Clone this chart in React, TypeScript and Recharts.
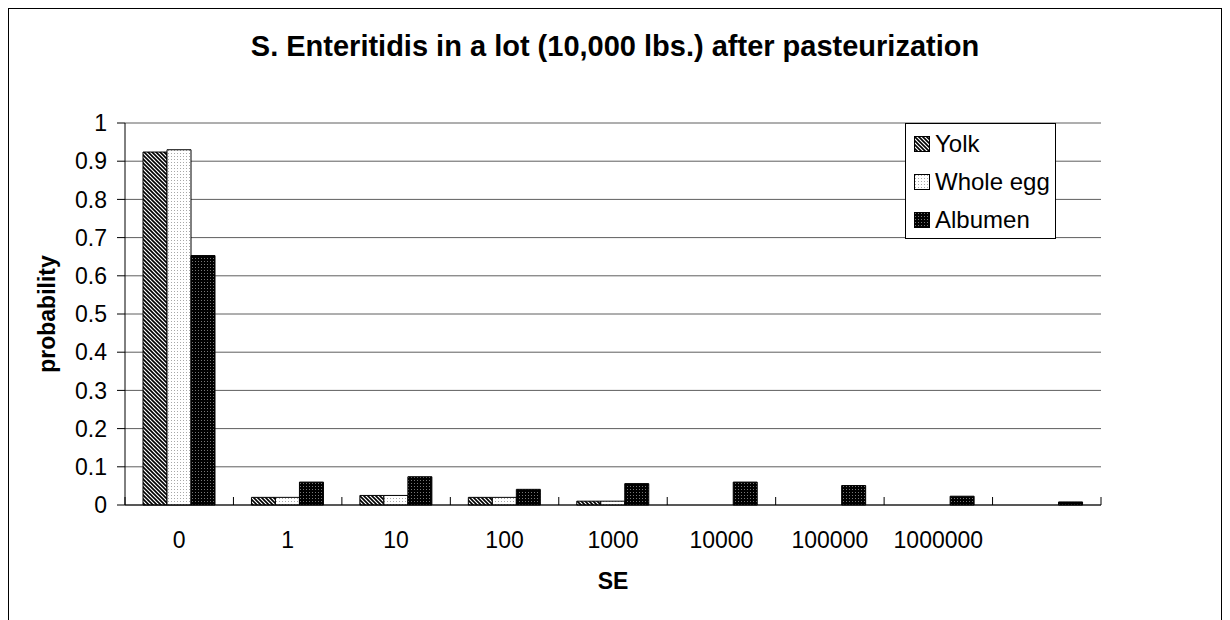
import { BarChart, Bar, XAxis, YAxis, CartesianGrid, Legend } from "recharts";

const categories = ["0", "1", "10", "100", "1000", "10000", "100000", "1000000", ""];
const yolk = [0.924, 0.02, 0.025, 0.02, 0.01, 0, 0, 0, 0];
const wholeEgg = [0.93, 0.02, 0.025, 0.02, 0.01, 0, 0, 0, 0];
const albumen = [0.653, 0.06, 0.074, 0.041, 0.056, 0.06, 0.051, 0.023, 0.008];
const yTicks = [0, 0.1, 0.2, 0.3, 0.4, 0.5, 0.6, 0.7, 0.8, 0.9, 1];
const seriesNames = ["Yolk", "Whole egg", "Albumen"];

const data = categories.map((c, i) => ({
  se: c,
  yolk: yolk[i],
  whole: wholeEgg[i],
  albumen: albumen[i],
}));

const FONT = "Arial, 'Liberation Sans', sans-serif";

// Excel-style category ticks: marks sit between categories and point up
function CategoryTick(props: any) {
  const { x, y, payload, index } = props;
  const half = payload.offset ?? 54;
  const last = index === categories.length - 1;
  return (
    <g>
      <line x1={x - half} x2={x - half} y1={y - 8} y2={y} stroke="#000" />
      {last && <line x1={x + half} x2={x + half} y1={y - 8} y2={y} stroke="#000" />}
      <text
        x={x}
        y={y + 35}
        textAnchor="middle"
        dominantBaseline="central"
        fontFamily={FONT}
        fontSize={23}
        fill="#000"
      >
        {payload.value}
      </text>
    </g>
  );
}

function LegendBox(props: any) {
  const items = [...(props.payload || [])].sort(
    (a: any, b: any) => seriesNames.indexOf(a.value) - seriesNames.indexOf(b.value)
  );
  return (
    <div
      style={{
        width: 149,
        height: 114,
        border: "1px solid #000",
        background: "#fff",
        fontFamily: FONT,
        fontSize: 24,
      }}
    >
      {items.map((it: any, i: number) => (
        <div
          key={i}
          style={{
            display: "flex",
            alignItems: "center",
            height: 24,
            marginTop: i === 0 ? 8 : 14,
            paddingLeft: 8,
            whiteSpace: "nowrap",
          }}
        >
          <svg width={16} height={16} style={{ marginRight: 5, flex: "none" }}>
            <rect x={0.5} y={0.5} width={15} height={15} fill={it.color} stroke="#000" />
          </svg>
          <span>{it.value}</span>
        </div>
      ))}
    </div>
  );
}

export default function App() {
  return (
    <div style={{ position: "relative", width: 1214, height: 620, background: "#fff", overflow: "hidden" }}>
      <div
        style={{
          position: "absolute",
          left: 0,
          top: 0,
          width: 1214,
          height: 640,
          boxSizing: "border-box",
          border: "1px solid #000",
          pointerEvents: "none",
          zIndex: 2,
        }}
      />
      <svg width={0} height={0} style={{ position: "absolute" }}>
        <defs>
          <pattern id="pYolk" width={4} height={4} patternUnits="userSpaceOnUse">
            <rect width={4} height={4} fill="#fff" />
            <path d="M-1,-1 L5,5 M-1,3 L1,5 M3,-1 L5,1" stroke="#000" strokeWidth={1.6} />
          </pattern>
          <pattern id="pWhole" width={3} height={3} patternUnits="userSpaceOnUse">
            <rect width={3} height={3} fill="#fff" />
            <rect x={1} y={1} width={1} height={1} fill="#a8a8a8" />
          </pattern>
          <pattern id="pAlbumen" width={3} height={3} patternUnits="userSpaceOnUse">
            <rect width={3} height={3} fill="#000" />
            <rect x={1} y={1} width={1} height={1} fill="#777" />
          </pattern>
        </defs>
      </svg>
      <div
        style={{
          position: "absolute",
          top: 20,
          left: 0,
          width: "100%",
          textAlign: "center",
          fontFamily: FONT,
          fontWeight: "bold",
          fontSize: 29,
          lineHeight: "36px",
          zIndex: 1,
        }}
      >
        S. Enteritidis in a lot (10,000 lbs.) after pasteurization
      </div>
      <BarChart
        width={1214}
        height={620}
        data={data}
        margin={{ top: 115, right: 121, left: 0, bottom: 63 }}
        barGap={0}
        barSize={24}
      >
        <CartesianGrid vertical={false} stroke="#5e5e5e" />
        <XAxis
          dataKey="se"
          height={60}
          tickSize={0}
          tickMargin={0}
          tickLine={false}
          axisLine={{ stroke: "#000" }}
          tick={<CategoryTick />}
          interval={0}
          label={{
            value: "SE",
            position: "bottom",
            offset: 8,
            style: { fontFamily: FONT, fontWeight: "bold", fontSize: 23, fill: "#000" },
          }}
        />
        <YAxis
          width={117}
          domain={[0, 1]}
          ticks={yTicks}
          tickSize={8}
          tickMargin={10}
          tickLine={{ stroke: "#000" }}
          axisLine={{ stroke: "#000" }}
          tick={{ fontFamily: FONT, fontSize: 23, fill: "#000" }}
          label={{
            value: "probability",
            angle: -90,
            position: "insideLeft",
            offset: 39,
            style: { textAnchor: "middle", fontFamily: FONT, fontWeight: "bold", fontSize: 23, fill: "#000" },
          }}
        />
        <YAxis
          yAxisId="r"
          orientation="right"
          width={0}
          domain={[0, 1]}
          tick={false}
          tickLine={false}
          axisLine={{ stroke: "#808080" }}
        />
        <Legend
          layout="vertical"
          align="center"
          verticalAlign="middle"
          content={<LegendBox />}
          wrapperStyle={{ left: 897, top: 115, width: 151, height: 116 }}
        />
        <Bar dataKey="yolk" name="Yolk" fill="url(#pYolk)" stroke="#000" strokeWidth={1} isAnimationActive={false} />
        <Bar dataKey="whole" name="Whole egg" fill="url(#pWhole)" stroke="#000" strokeWidth={1} isAnimationActive={false} />
        <Bar dataKey="albumen" name="Albumen" fill="url(#pAlbumen)" stroke="#000" strokeWidth={1} isAnimationActive={false} />
      </BarChart>
    </div>
  );
}
